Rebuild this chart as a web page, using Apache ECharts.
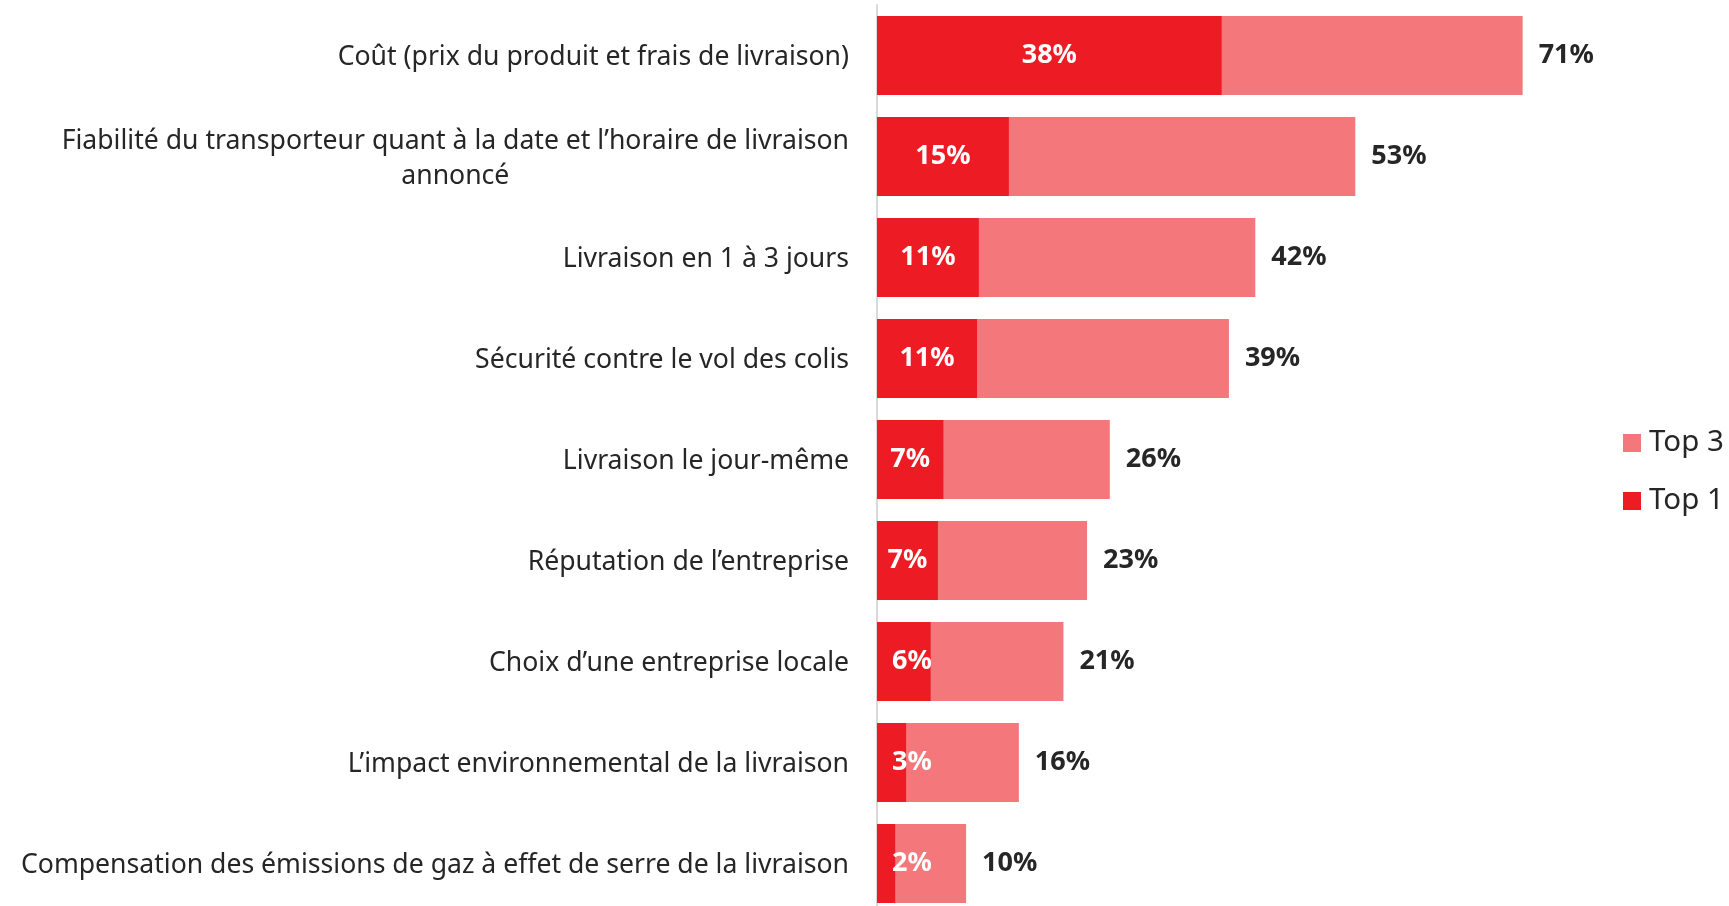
<!DOCTYPE html>
<html>
<head>
<meta charset="utf-8">
<script src="https://cdn.jsdelivr.net/npm/echarts@6/dist/echarts.min.js"></script>
<style>
html,body{margin:0;padding:0;background:#fff;}
#chart{width:1729px;height:906px;}
</style>
</head>
<body>
<div id="chart"></div>
<script>
const categories = [
  "Coût (prix du produit et frais de livraison)",
  "Fiabilité du transporteur quant à la date et l’horaire de livraison\nannoncé",
  "Livraison en 1 à 3 jours",
  "Sécurité contre le vol des colis",
  "Livraison le jour-même",
  "Réputation de l’entreprise",
  "Choix d’une entreprise locale",
  "L’impact environnemental de la livraison",
  "Compensation des émissions de gaz à effet de serre de la livraison"
];
// bar lengths (labels show them rounded)
const top3 = [71.0, 52.6, 41.6, 38.7, 25.6, 23.1, 20.5, 15.6, 9.8];
const top1 = [37.9, 14.5, 11.2, 11.0, 7.3, 6.7, 5.9, 3.2, 2.0];
const seriesNames = ["Top 3", "Top 1"];

const FONT = "Noto Sans";
const pct = function (p) { return Math.round(p.value) + '%'; };
const chart = echarts.init(document.getElementById('chart'));
chart.setOption({
  animation: false,
  backgroundColor: '#ffffff',
  textStyle: { fontFamily: FONT },
  grid: { left: 877, top: 5, width: 727.5, height: 909, containLabel: false, outerBoundsMode: 'none' },
  legend: {
    data: seriesNames,
    orient: 'vertical',
    left: 1623,
    top: 428,
    padding: 0,
    itemWidth: 18,
    itemHeight: 18,
    itemGap: 28,
    icon: 'rect',
    textStyle: { fontFamily: FONT, fontSize: 29.5, color: '#262626', padding: [0, 0, 0, 3] }
  },
  xAxis: { type: 'value', min: 0, max: 80, show: false },
  yAxis: {
    type: 'category',
    data: categories,
    inverse: true,
    axisLine: { show: true, lineStyle: { color: '#D9D9D9', width: 2 } },
    axisTick: { show: false },
    axisLabel: {
      margin: 28,
      color: '#262626',
      fontFamily: FONT,
      fontSize: 26.6,
      padding: [4, 0, 0, 0],
      formatter: function (v) {
        return v.split('\n').map(function (l) { return '{c|' + l + '}'; }).join('\n');
      },
      rich: { c: { align: 'center', fontFamily: FONT, fontSize: 26.6, color: '#262626', lineHeight: 35 } }
    }
  },
  series: [
    {
      name: seriesNames[0],
      type: 'bar',
      data: top3,
      barCategoryGap: '22%',
      itemStyle: { color: '#F4777B' },
      label: {
        show: true, position: 'right', distance: 16, padding: [4, 0, 0, 0],
        formatter: pct, fontFamily: FONT, fontWeight: 'bold', fontSize: 27, color: '#262626'
      },
      z: 2
    },
    {
      name: seriesNames[1],
      type: 'bar',
      barGap: '-100%',
      barCategoryGap: '22%',
      itemStyle: { color: '#ED1C24' },
      data: top1.map(function (v) {
        return {
          value: v,
          label: v < 6.5 ? { position: 'insideLeft', distance: 15 } : { position: 'inside' }
        };
      }),
      label: {
        show: true, formatter: pct, padding: [4, 0, 0, 0],
        fontFamily: FONT, fontWeight: 'bold', fontSize: 27, color: '#ffffff'
      },
      z: 3
    }
  ]
});
</script>
</body>
</html>
